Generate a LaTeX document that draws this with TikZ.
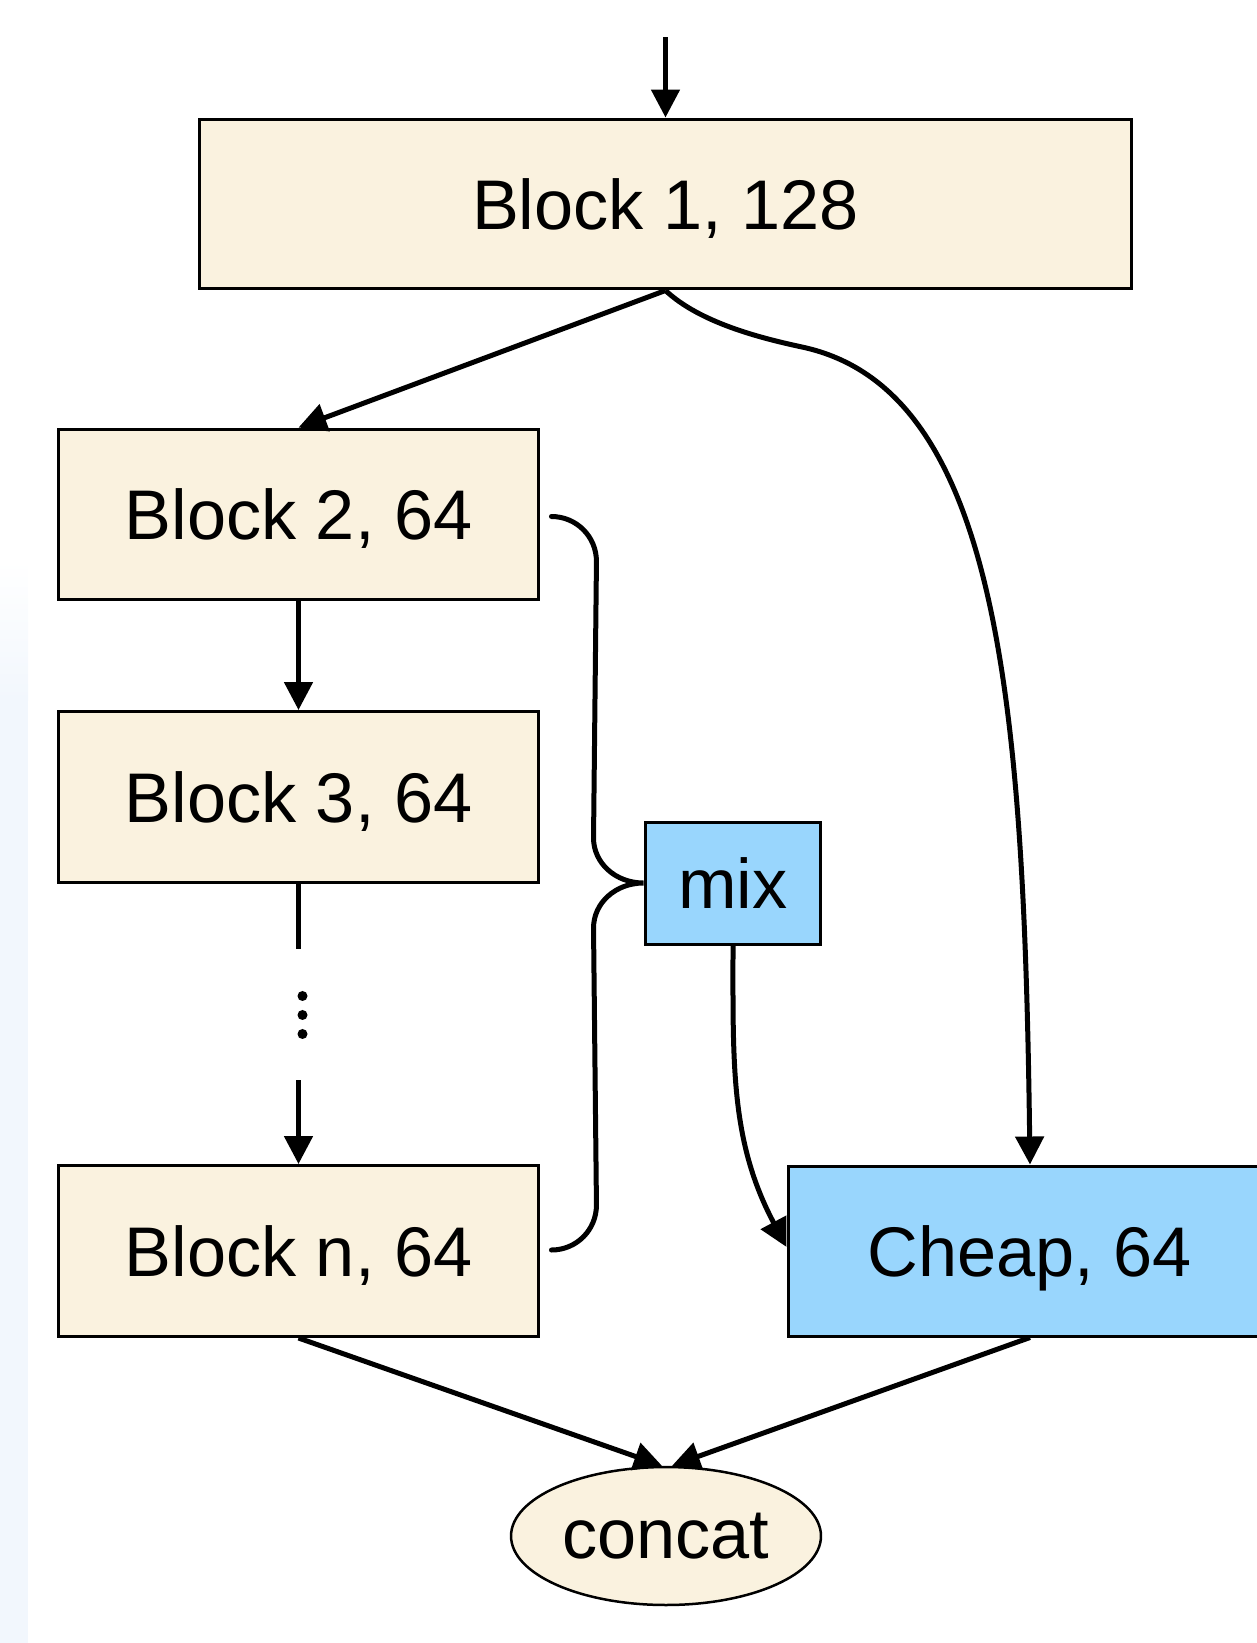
\documentclass[tikz,border=0pt]{standalone}
\usepackage{fontspec}
\setmainfont{Liberation Sans}
\usetikzlibrary{arrows.meta,calc,shapes.geometric}
\definecolor{cream}{RGB}{250,242,223}
\definecolor{sky}{RGB}{153,214,253}
\definecolor{edgestrip}{RGB}{242,247,253}

\begin{document}
\begin{tikzpicture}[x=0.02cm,y=-0.02cm,
  every node/.style={font=\fontsize{40}{48}\selectfont,inner sep=0pt},
  captext/.style={text height=28.6pt,text depth=0pt},
  blockbox/.style={draw,line width=0.06cm,fill=cream,captext,minimum width=9.62cm,minimum height=3.42cm},
  widebox/.style={draw,line width=0.06cm,fill=cream,captext,minimum width=18.66cm,minimum height=3.4cm},
  mixbox/.style={draw,line width=0.06cm,fill=sky,minimum width=3.52cm,minimum height=2.44cm},
  cheapbox/.style={draw,line width=0.06cm,fill=sky,captext,minimum width=9.68cm,minimum height=3.4cm},
  joinnode/.style={draw,line width=0.05cm,fill=cream,ellipse,minimum width=6.2cm,minimum height=2.76cm},
  conn/.style={line width=0.1cm,-{Triangle[length=0.56cm,width=0.56cm]}},
  plainline/.style={line width=0.1cm},
  bracestyle/.style={line width=0.1cm,line cap=round}]

\useasboundingbox (0,0) rectangle (1257,1643);
\clip (0,0) rectangle (1257,1643);

% pale strip along the left edge
\shade[top color=white,bottom color=edgestrip] (0,560) rectangle (28,700);
\fill[edgestrip] (0,700) rectangle (28,1643);

% nodes
\node[widebox] (b1) at (665.5,204) {Block 1, 128};
\node[blockbox] (b2) at (298.5,514.5) {Block 2, 64};
\node[blockbox] (b3) at (298.5,797) {Block 3, 64};
\node[blockbox] (bn) at (298.5,1251) {Block n, 64};
\node[mixbox] (mix) at (733,883) {mix};
\node[cheapbox] (ch) at (1030,1251) {Cheap, 64};
\node[joinnode] (cc) at (666,1536) {concat};

% input
\coordinate (in) at (665.5,37);
\draw[conn] (in) -- (b1.north);

% main chain
\draw[conn] (b1.south) -- (b2.north);
\draw[conn] (b2.south) -- (b3.north);
\draw[plainline] (b3.south) -- ($(b3.south)+(0,65)$);
\foreach \dy in {112,131,150}
  \fill ($(b3.south)+(4,\dy)$) circle (5);
\coordinate (gapend) at ($(bn.north)+(0,-84)$);
\draw[conn] (gapend) -- (bn.north);

% skip path to the cheap block
\draw[conn] (b1.south) .. controls +(34,32) and (760,338) .. (802,347)
  .. controls (998,389) and (1024,700) .. (ch.north);

% brace gathering blocks 2..n into mix
\coordinate (bt) at ($(b2.east)+(11,2)$);
\coordinate (bb) at ($(bn.east)+(11,-1)$);
\coordinate (tip) at (mix.west);
\draw[bracestyle] (bt) .. controls ($(bt)+(25,0)$) and ($(bt)+(45,20)$) .. ($(bt)+(45,45)$)
  -- ($(tip)+(-50,-45)$) .. controls ($(tip)+(-50,-20)$) and ($(tip)+(-28,0)$) .. (tip)
  .. controls ($(tip)+(-28,0)$) and ($(tip)+(-50,20)$) .. ($(tip)+(-50,45)$)
  -- ($(bb)+(45,-45)$) .. controls ($(bb)+(45,-20)$) and ($(bb)+(25,0)$) .. (bb);

% mix feeds the cheap block
\draw[conn] (mix.south) to[out=-90,in=118] ($(ch.west)+(0,-4)$);

% outputs into concat
\draw[conn] (bn.south) -- ($(cc.north)+(-4,0)$);
\draw[conn] (ch.south) -- ($(cc.north)+(6,0)$);
\end{tikzpicture}
\end{document}
